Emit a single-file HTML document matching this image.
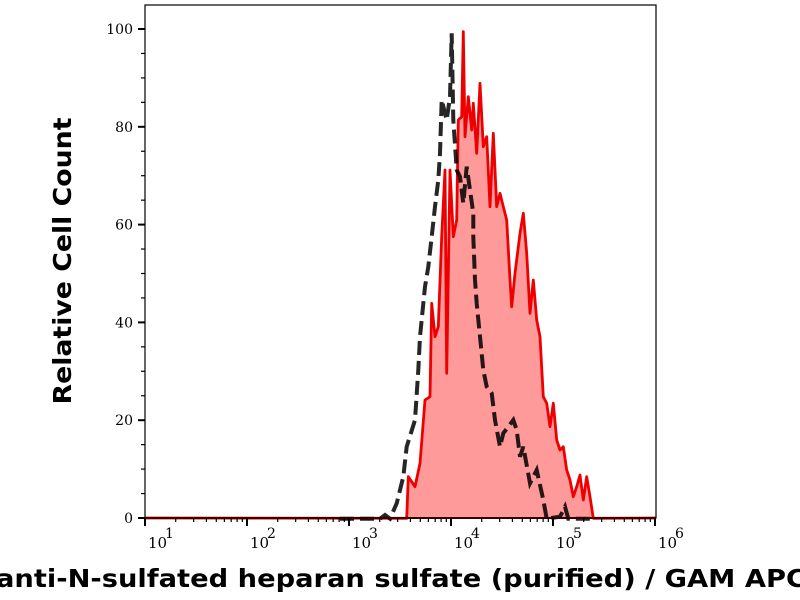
<!DOCTYPE html>
<html><head><meta charset="utf-8"><style>
html,body{margin:0;padding:0;background:#fff;width:800px;height:600px;overflow:hidden}
</style></head><body>
<svg id="s" width="800" height="600" xmlns="http://www.w3.org/2000/svg" style="position:absolute;left:0;top:0">
<text x="71" y="261" transform="rotate(-90 71 261)" text-anchor="middle" textLength="287" lengthAdjust="spacingAndGlyphs" font-family="DejaVu Sans, sans-serif" font-weight="bold" font-size="25" fill="#000">Relative Cell Count</text>
<text x="-4" y="587" textLength="810" lengthAdjust="spacingAndGlyphs" font-family="DejaVu Sans, sans-serif" font-weight="bold" font-size="25" fill="#000">anti-N-sulfated heparan sulfate (purified) / GAM APC</text>
</svg>
<script>
var s=document.getElementById('s'),NS='http://www.w3.org/2000/svg';
function el(t,a,txt){var e=document.createElementNS(NS,t);for(var k in a)e.setAttribute(k,a[k]);if(txt!=null)e.textContent=txt;s.appendChild(e);return e;}
var L=145,R=656,T=5,B=518;
function X(p){return 360+p/3}function Y(p){return 20+p/3}
var red=[[140,1495],[145,1370],[165,1400],[180,1330],[195,1140],[210,1130],[215,850],[225,950],[235,920],[245,650],[255,450],[260,1060],[270,450],[280,650],[290,600],[295,300],[305,290],[310,35],[315,350],[325,230],[335,330],[340,250],[350,400],[360,190],[370,380],[380,350],[390,560],[400,340],[410,560],[420,520],[430,560],[440,600],[450,780],[455,860],[465,760],[480,640],[490,580],[500,700],[510,880],[520,780],[530,900],[540,950],[550,1130],[560,1150],[570,1220],[580,1150],[590,1260],[600,1290],[610,1280],[620,1350],[630,1380],[640,1430],[650,1400],[660,1365],[670,1440],[680,1370],[690,1430],[700,1495]];
var rp=red.map(function(p){return X(p[0]).toFixed(1)+','+Y(p[1]).toFixed(1)}).join(' ');
el('polygon',{points:X(140)+','+B+' '+rp+' '+X(700)+','+B,fill:'#ff9a9a',stroke:'none'});
el('polyline',{points:L+','+B+' '+rp+' '+R+','+B,fill:'none',stroke:'#ee0000','stroke-width':2.8,'stroke-linejoin':'round'});
var blk=[[-60,1496],[60,1496],[75,1485],[90,1496],[110,1450],[130,1370],[140,1280],[165,1200],[175,1050],[180,950],[195,800],[205,740],[215,650],[225,560],[235,480],[240,400],[245,240],[260,300],[270,230],[275,40],[280,300],[290,450],[300,470],[310,550],[320,440],[340,580],[340,650],[345,780],[350,850],[360,950],[370,1050],[380,1100],[395,1120],[405,1200],[420,1280],[430,1240],[460,1200],[470,1230],[480,1310],[490,1280],[510,1390],[530,1350],[550,1440],[560,1496],[600,1490],[615,1460],[625,1496],[700,1496]];
el('polyline',{points:blk.map(function(p){return X(p[0]).toFixed(1)+','+Y(p[1]).toFixed(1)}).join(' '),fill:'none',stroke:'#000','stroke-width':4,'stroke-dasharray':'14,6','stroke-opacity':0.85});
el('line',{x1:L,y1:B,x2:R,y2:B,stroke:'#8a0000','stroke-width':2});
el('rect',{x:L,y:T,width:R-L,height:B-T,fill:'none',stroke:'#000','stroke-width':1.2});
for(var v=0;v<=100;v+=5){var y=B-v*4.89;var maj=v%20==0;el('line',{x1:L-(maj?7:4),y1:y,x2:L,y2:y,stroke:'#000','stroke-width':maj?2:1.2});
if(maj)el('text',{x:L-12,y:y+5,'text-anchor':'end','font-family':'DejaVu Serif, serif','font-size':14,fill:'#000'},String(v));}
var dec=102;
for(var d=1;d<=6;d++){var x0=L+(d-1)*dec;el('line',{x1:x0,y1:B,x2:x0,y2:B+8,stroke:'#000','stroke-width':2});
el('text',{x:x0+3,y:B+30,'font-family':'DejaVu Serif, serif','font-size':15,fill:'#000'},'10');
el('text',{x:x0+20,y:B+20,'font-family':'DejaVu Serif, serif','font-size':14,fill:'#000'},String(d));
if(d<6)for(var m=2;m<10;m++){var xm=x0+Math.log10(m)*dec;el('line',{x1:xm,y1:B,x2:xm,y2:B+4,stroke:'#000','stroke-width':1.2});}}
</script>
</body></html>
